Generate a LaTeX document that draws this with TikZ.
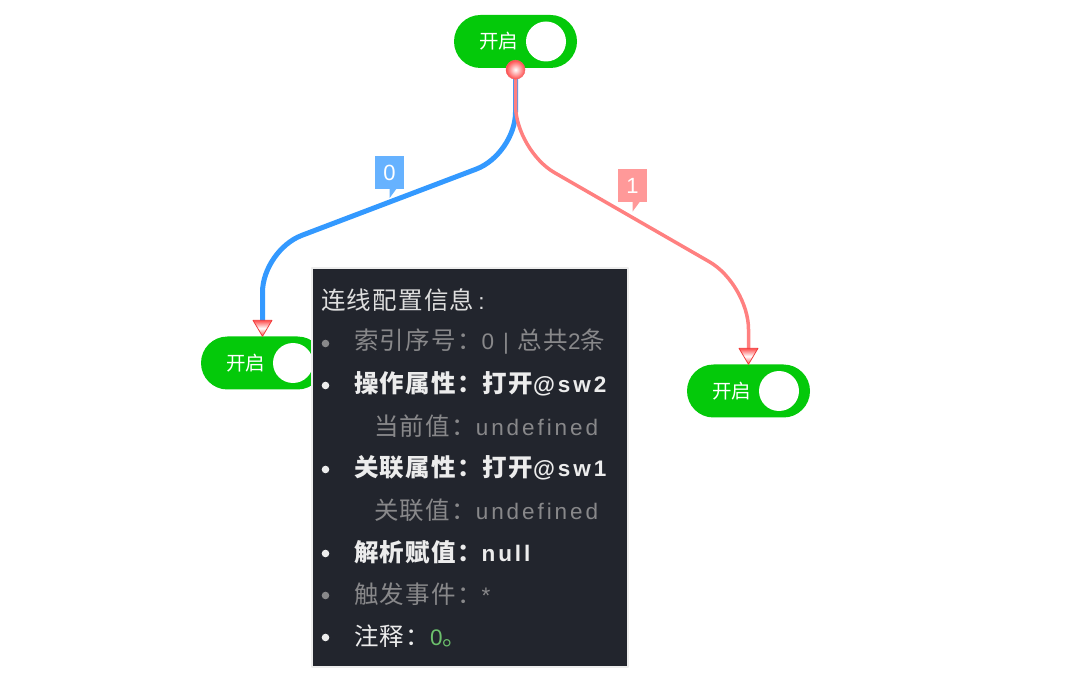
\documentclass[tikz,border=0pt]{standalone}
\usepackage{fontspec}
\setmainfont{Noto Sans CJK SC}
\newfontfamily\tipfont{Noto Sans CJK SC}[LetterSpace=5]
\newfontfamily\latinfont{Liberation Sans}[LetterSpace=13]
\newcommand{\lat}[1]{{\latinfont\fontsize{22.5}{27}\selectfont #1}}
\usetikzlibrary{calc}

\definecolor{switchgreen}{RGB}{4,201,10}
\definecolor{wireblue}{RGB}{51,153,255}
\definecolor{wirered}{RGB}{255,128,128}
\definecolor{labelblue}{RGB}{102,178,255}
\definecolor{labelred}{RGB}{255,153,153}
\definecolor{tipbg}{RGB}{34,37,45}
\definecolor{tiptitle}{RGB}{222,222,222}
\definecolor{tipwhite}{RGB}{236,236,236}
\definecolor{tipgray}{RGB}{136,136,138}
\definecolor{tipgreen}{RGB}{108,192,108}
\definecolor{tipred}{RGB}{240,60,60}

\begin{document}
\begin{tikzpicture}[x=1pt,y=-1pt,line cap=round,line join=round,
    switchbox/.style={fill=switchgreen,rounded corners=26.5pt,minimum width=123pt,
        minimum height=53pt,inner sep=0pt,text=white,font=\fontsize{19.5}{22}\selectfont,
        path picture={\fill[white] ([xshift=-31pt]path picture bounding box.east) circle (20pt);}},
    wirelabel/.style={minimum width=29pt,minimum height=33pt,inner sep=0pt,text=white,
        font=\latinfont\fontsize{22}{24}\selectfont},
    arrowhead/.style={draw=tipred,line width=0.8pt,left color=red!70,right color=red!70,
        middle color=white,shading angle=0},
    tipbox/.style={fill=tipbg,draw=black!7,line width=1.5pt,minimum width=316pt,
        minimum height=399pt,inner sep=0pt},
    tipline/.style={anchor=west,inner sep=0pt,font=\tipfont\fontsize{24.5}{28}\selectfont}]
    \useasboundingbox (0,0) rectangle (1079,684);

    % switches
    \node[switchbox] (sw-top) at (515.5,41.5) {开启\kern34pt};
    \node[switchbox] (sw-left) at (262.5,363) {开启\kern34pt};
    \node[switchbox] (sw-right) at (748.5,391) {开启\kern34pt};

    % wires
    \draw[wireblue,line width=5pt,rounded corners=42pt] (sw-top.south) -- ++(0,86)
        -- ($(sw-left.north)+(0,-86)$) -- ($(sw-left.north)+(0,-8)$);
    \draw[wirered,line width=3.5pt,rounded corners=45pt] (sw-top.south) -- ++(0,82)
        -- ($(sw-right.north)+(0,-80)$) -- ($(sw-right.north)+(0,-8)$);
    \shade[draw=tipred!80,line width=0.5pt,inner color=white,outer color=red!70]
        ($(sw-top.south)+(0,1.5)$) circle (9.5pt);
    \shade[arrowhead] (sw-left.north) -- ++(-9.5,-16) -- ++(19,0) -- cycle;
    \shade[arrowhead] (sw-right.north) -- ++(-9.5,-16) -- ++(19,0) -- cycle;

    % wire labels
    \node[wirelabel,fill=labelblue] (lbl0) at (389.5,172.5) {0};
    \fill[labelblue] ($(lbl0.south)+(0,-0.5)$) -- ++(7,0) -- ++(-7,9.5) -- cycle;
    \node[wirelabel,fill=labelred] (lbl1) at (632.5,186) {1};
    \fill[labelred] ($(lbl1.south)+(0,-0.5)$) -- ++(7,0) -- ++(-7,9.5) -- cycle;

    % tooltip
    \node[tipbox] (tip) at (470,467.5) {};
    \foreach \y/\c in {342/tipgray,384/tipwhite,468/tipwhite,552/tipwhite,594/tipgray,636/tipwhite}
        \fill[\c] (325.5,{\y+1.5}) circle (3.8pt);
    \node[tipline,text=tiptitle] (t-title) at (321,300) {连线配置信息\lat{\kern4pt:}};
    \node[tipline,text=tipgray] (t-index) at (354,342) {索引序号：\lat{0\kern9pt|\kern9pt}总共\lat{2}条};
    \node[tipline,text=tipwhite] (t-action) at (354,384) {\bfseries 操作属性：打开\lat{\bfseries @sw2}};
    \node[tipline,text=tipgray] (t-current) at (374,426) {当前值：\lat{undefined}};
    \node[tipline,text=tipwhite] (t-linked) at (354,468) {\bfseries 关联属性：打开\lat{\bfseries @sw1}};
    \node[tipline,text=tipgray] (t-linkval) at (374,510) {关联值：\lat{undefined}};
    \node[tipline,text=tipwhite] (t-parse) at (354,552) {\bfseries 解析赋值：\lat{\bfseries null}};
    \node[tipline,text=tipgray] (t-event) at (354,594) {触发事件：\lat{*}};
    \node[tipline,text=tipwhite] (t-note) at (354,636) {注释：\textcolor{tipgreen}{\lat{0}。}};
\end{tikzpicture}
\end{document}
